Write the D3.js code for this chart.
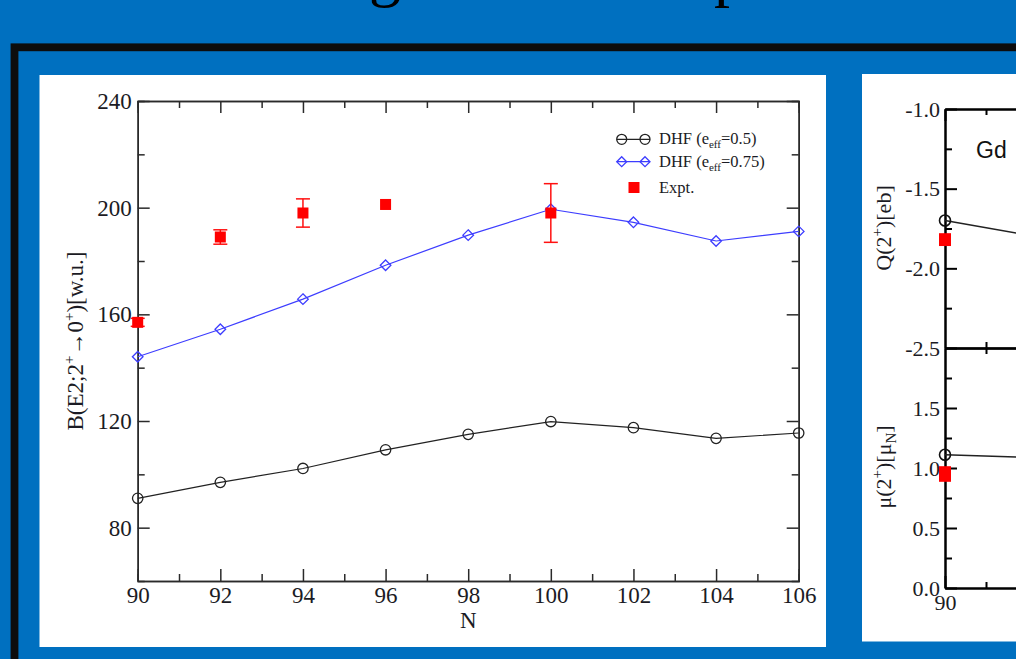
<!DOCTYPE html>
<html>
<head>
<meta charset="utf-8">
<script src="https://cdn.jsdelivr.net/npm/d3@7/dist/d3.min.js"></script>
<style>
  html, body { margin: 0; padding: 0; background: #0070c0; }
  svg { display: block; }
</style>
</head>
<body>
<svg id="slide" width="1016" height="659"></svg>
<script>
// ---- B(E2) panel data ----
const neutrons = [90, 92, 94, 96, 98, 100, 102, 104, 106];
const dhf05 = [91, 97, 102.2, 109.2, 115, 119.8, 117.5, 113.5, 115.5];
const dhf075 = [144.1, 154.4, 165.7, 178.4, 189.7, 199.4, 194.5, 187.5, 191.1];
const exptN = [90, 92, 94, 96, 100];
const exptB = [157, 189, 198, 201.2, 198];
const exptErr = [1.5, 2.7, 5.3, 0, 11];
const xTicks = [90, 92, 94, 96, 98, 100, 102, 104, 106];
const yTicks = [80, 120, 160, 200, 240];
const legendLabels = ["DHF (e", "eff", "=0.5)", "=0.75)", "Expt."];

// ---- Gd moments panel data ----
const gdN = [90, 92];
const gdQ = [-1.70, -1.79];
const gdQExpt = [-1.82];
const gdQErr = [0.04];
const gdMu = [1.11, 1.09];
const gdMuExpt = [0.95];
const gdMuErr = [0.065];
const gdXTicks = [90, 92, 94, 96];
const qTicks = [-1.0, -1.5, -2.0, -2.5];
const muTicks = [0.0, 0.5, 1.0, 1.5];

const svg = d3.select("#slide");
const serif = '"Liberation Serif", "Times New Roman", serif';
const ink = "#1b1b24";

// slide background, title descenders and frame
svg.append("rect").attr("width", 1016).attr("height", 659).attr("fill", "#0070c0");
svg.append("text").attr("x", 369).attr("y", -6).attr("font-family", serif)
  .attr("font-size", 64).attr("fill", "#000").text("g");
svg.append("text").attr("x", 714).attr("y", -6).attr("font-family", serif)
  .attr("font-size", 64).attr("fill", "#000").text("p");
svg.append("rect").attr("x", 14.5).attr("y", 47.3).attr("width", 1100).attr("height", 700)
  .attr("fill", "none").attr("stroke", "#0d0d0d").attr("stroke-width", 7.8);

svg.append("rect").attr("x", 39.5).attr("y", 75).attr("width", 786.5).attr("height", 572).attr("fill", "#fff");
svg.append("rect").attr("x", 862).attr("y", 74).attr("width", 160).attr("height", 567.5).attr("fill", "#fff");

// ================= main B(E2) chart =================
const x = d3.scaleLinear().domain([90, 106]).range([137.7, 798.7]);
const y = d3.scaleLinear().domain([60, 240]).range([581, 101]);
const g = svg.append("g");
const axisColor = "#2a2a2a";

function styleAxis(sel) {
  sel.selectAll("path, line").attr("stroke", axisColor).attr("stroke-width", 1.5);
  sel.selectAll("text").attr("font-family", serif).attr("font-size", 23).attr("fill", ink);
}
const minorX = d3.range(91, 106, 2);
const minorYVals = [100, 140, 180, 220];

g.append("g").attr("transform", `translate(0,${y(60)})`)
  .call(d3.axisBottom(x).tickValues(xTicks).tickSize(-12).tickSizeOuter(0).tickPadding(6)).call(styleAxis);
g.append("g").attr("transform", `translate(0,${y(60)})`)
  .call(d3.axisBottom(x).tickValues(minorX).tickSize(-7).tickFormat("")).call(styleAxis);
g.append("g").attr("transform", `translate(0,${y(240)})`)
  .call(d3.axisTop(x).tickValues(xTicks).tickSize(-12).tickSizeOuter(0).tickFormat("")).call(styleAxis);
g.append("g").attr("transform", `translate(0,${y(240)})`)
  .call(d3.axisTop(x).tickValues(minorX).tickSize(-7).tickFormat("")).call(styleAxis);
g.append("g").attr("transform", `translate(${x(90)},0)`)
  .call(d3.axisLeft(y).tickValues(yTicks).tickSize(-12).tickSizeOuter(0).tickPadding(6)).call(styleAxis);
g.append("g").attr("transform", `translate(${x(90)},0)`)
  .call(d3.axisLeft(y).tickValues(minorYVals).tickSize(-7).tickFormat("")).call(styleAxis);
g.append("g").attr("transform", `translate(${x(106)},0)`)
  .call(d3.axisRight(y).tickValues(yTicks).tickSize(-12).tickSizeOuter(0).tickFormat("")).call(styleAxis);
g.append("g").attr("transform", `translate(${x(106)},0)`)
  .call(d3.axisRight(y).tickValues(minorYVals).tickSize(-7).tickFormat("")).call(styleAxis);

// axis titles
g.append("text").attr("x", x(98)).attr("y", 628).attr("text-anchor", "middle")
  .attr("font-family", serif).attr("font-size", 23).attr("fill", ink).text("N");
const yt = g.append("text").attr("transform", `translate(83,${(y(60) + y(240)) / 2}) rotate(-90)`)
  .attr("text-anchor", "middle").attr("font-family", serif).attr("font-size", 23).attr("fill", ink);
yt.append("tspan").text("B(E2;2");
yt.append("tspan").attr("dy", -9).attr("font-size", 15).text("+");
yt.append("tspan").attr("dy", 9).text("\u21920");
yt.append("tspan").attr("dy", -9).attr("font-size", 15).text("+");
yt.append("tspan").attr("dy", 9).text(")[w.u.]");

// series
const line = (ys) => d3.line().x((d, i) => x(neutrons[i])).y((d, i) => y(ys[i]));
const diamond = (cx, cy, r) => `M${cx},${cy - r}L${cx + r},${cy}L${cx},${cy + r}L${cx - r},${cy}Z`;

g.append("path").datum(dhf05).attr("d", line(dhf05)).attr("fill", "none")
  .attr("stroke", "#222").attr("stroke-width", 1.2);
g.selectAll("circle.c05").data(dhf05).join("circle").attr("class", "c05")
  .attr("cx", (d, i) => x(neutrons[i])).attr("cy", d => y(d)).attr("r", 5.2)
  .attr("fill", "none").attr("stroke", "#222").attr("stroke-width", 1.3);

g.append("path").datum(dhf075).attr("d", line(dhf075)).attr("fill", "none")
  .attr("stroke", "#3d3dff").attr("stroke-width", 1.2);
g.selectAll("path.d075").data(dhf075).join("path").attr("class", "d075")
  .attr("d", (d, i) => diamond(x(neutrons[i]), y(d), 5.3))
  .attr("fill", "none").attr("stroke", "#3d3dff").attr("stroke-width", 1.3);

// experiment with error bars
const red = "#ff1010";
exptN.forEach((n, i) => {
  if (!exptErr[i]) return;
  const cx = x(n), top = y(exptB[i] + exptErr[i]), bot = y(exptB[i] - exptErr[i]);
  g.append("line").attr("x1", cx).attr("x2", cx).attr("y1", top).attr("y2", bot).attr("stroke", red).attr("stroke-width", 1.5);
  [top, bot].forEach(yy => g.append("line").attr("x1", cx - 7).attr("x2", cx + 7)
    .attr("y1", yy).attr("y2", yy).attr("stroke", red).attr("stroke-width", 1.5));
});
g.selectAll("rect.expt").data(exptB).join("rect").attr("class", "expt")
  .attr("x", (d, i) => x(exptN[i]) - 5.5).attr("y", d => y(d) - 5.5)
  .attr("width", 11).attr("height", 11).attr("fill", "#ff0000");

// legend
const leg = g.append("g");
const rows = [139.3, 161.7, 187.5];
leg.append("line").attr("x1", 617).attr("x2", 650).attr("y1", rows[0]).attr("y2", rows[0]).attr("stroke", "#222").attr("stroke-width", 1.2);
[621.7, 645].forEach(cx => leg.append("circle").attr("cx", cx).attr("cy", rows[0]).attr("r", 5)
  .attr("fill", "none").attr("stroke", "#222").attr("stroke-width", 1.3));
leg.append("line").attr("x1", 617).attr("x2", 650).attr("y1", rows[1]).attr("y2", rows[1]).attr("stroke", "#3d3dff").attr("stroke-width", 1.2);
[621.7, 645].forEach(cx => leg.append("path").attr("d", diamond(cx, rows[1], 5))
  .attr("fill", "none").attr("stroke", "#3d3dff").attr("stroke-width", 1.3));
leg.append("rect").attr("x", 628.5).attr("y", rows[2] - 5.5).attr("width", 11).attr("height", 11).attr("fill", "#ff0000");

[legendLabels[2], legendLabels[3]].forEach((tail, k) => {
  const t = leg.append("text").attr("x", 659).attr("y", rows[k] + 5).attr("font-family", serif)
    .attr("font-size", 16.5).attr("fill", ink);
  t.append("tspan").text(legendLabels[0]);
  t.append("tspan").attr("dy", 4).attr("font-size", 11).text(legendLabels[1]);
  t.append("tspan").attr("dy", -4).text(tail);
});
leg.append("text").attr("x", 659).attr("y", rows[2] + 5).attr("font-family", serif)
  .attr("font-size", 16.5).attr("fill", ink).text(legendLabels[4]);

// ================= Gd moments chart (right panel) =================
const xr = d3.scaleLinear().domain([90, 96]).range([945, 945 + 6 * 41]);
const yq = d3.scaleLinear().domain([-1.0, -2.5]).range([109, 348]);
const ym = d3.scaleLinear().domain([0, 2]).range([588, 348]);
const r = svg.append("g");
const rxMinor = [91, 93, 95];

function styleR(sel) {
  sel.selectAll("path, line").attr("stroke", "#000").attr("stroke-width", 2);
  sel.selectAll("text").attr("font-family", serif).attr("font-size", 22).attr("fill", ink);
}
// upper panel
r.append("g").attr("transform", `translate(0,${yq(-1.0)})`)
  .call(d3.axisTop(xr).tickValues(gdXTicks).tickSize(-12).tickSizeOuter(0).tickFormat("")).call(styleR);
r.append("g").attr("transform", `translate(0,${yq(-1.0)})`)
  .call(d3.axisTop(xr).tickValues(rxMinor).tickSize(-6).tickSizeOuter(0).tickFormat("")).call(styleR);
r.append("g").attr("transform", `translate(0,${yq(-2.5)})`)
  .call(d3.axisBottom(xr).tickValues(gdXTicks.slice(1)).tickSize(-12).tickSizeOuter(0).tickFormat("")).call(styleR);
r.append("g").attr("transform", `translate(0,${yq(-2.5)})`)
  .call(d3.axisBottom(xr).tickValues(rxMinor).tickSize(-6).tickSizeOuter(0).tickFormat("")).call(styleR);
r.append("g").attr("transform", `translate(${xr(90)},0)`)
  .call(d3.axisLeft(yq).tickValues(qTicks).tickSize(-12).tickSizeOuter(0).tickPadding(5)
    .tickFormat(d => d.toFixed(1))).call(styleR);
r.append("g").attr("transform", `translate(${xr(90)},0)`)
  .call(d3.axisLeft(yq).tickValues([-1.25, -1.75, -2.25]).tickSize(-7).tickSizeOuter(0).tickFormat("")).call(styleR);
// lower panel
r.append("g").attr("transform", `translate(0,${ym(2)})`)
  .call(d3.axisTop(xr).tickValues(rxMinor).tickSize(-6).tickSizeOuter(0).tickFormat("")).call(styleR);
r.append("g").attr("transform", `translate(0,${ym(0)})`)
  .call(d3.axisBottom(xr).tickValues(gdXTicks).tickSize(-12).tickSizeOuter(0).tickPadding(6)
    .tickFormat(d3.format("d"))).call(styleR);
r.append("g").attr("transform", `translate(0,${ym(0)})`)
  .call(d3.axisBottom(xr).tickValues(rxMinor).tickSize(-6).tickSizeOuter(0).tickFormat("")).call(styleR);
r.append("g").attr("transform", `translate(${xr(90)},0)`)
  .call(d3.axisLeft(ym).tickValues(muTicks).tickSize(-12).tickSizeOuter(0).tickPadding(5)
    .tickFormat(d => d.toFixed(1))).call(styleR);
r.append("g").attr("transform", `translate(${xr(90)},0)`)
  .call(d3.axisLeft(ym).tickValues([0.25, 0.75, 1.25, 1.75]).tickSize(-7).tickSizeOuter(0).tickFormat("")).call(styleR);

r.append("text").attr("x", 976).attr("y", 158).attr("font-family", '"Liberation Sans", Arial, sans-serif')
  .attr("font-size", 23).attr("fill", "#111").text("Gd");

const qt = r.append("text").attr("transform", `translate(891,228) rotate(-90)`)
  .attr("text-anchor", "middle").attr("font-family", serif).attr("font-size", 22).attr("fill", ink);
qt.append("tspan").text("Q(2");
qt.append("tspan").attr("dy", -9).attr("font-size", 15).text("+");
qt.append("tspan").attr("dy", 9).text(")[eb]");
const mt = r.append("text").attr("transform", `translate(891,467) rotate(-90)`)
  .attr("text-anchor", "middle").attr("font-family", serif).attr("font-size", 22).attr("fill", ink);
mt.append("tspan").text("\u03bc(2");
mt.append("tspan").attr("dy", -9).attr("font-size", 15).text("+");
mt.append("tspan").attr("dy", 9).text(")[\u03bc");
mt.append("tspan").attr("dy", 5).attr("font-size", 15).text("N");
mt.append("tspan").attr("dy", -5).text("]");

const lq = d3.line().x((d, i) => xr(gdN[i])).y(d => yq(d));
const lm = d3.line().x((d, i) => xr(gdN[i])).y(d => ym(d));
r.append("path").attr("d", lq(gdQ)).attr("fill", "none").attr("stroke", "#222").attr("stroke-width", 1.5);
r.append("path").attr("d", lm(gdMu)).attr("fill", "none").attr("stroke", "#222").attr("stroke-width", 1.5);
r.append("circle").attr("cx", xr(gdN[0])).attr("cy", yq(gdQ[0])).attr("r", 5.5)
  .attr("fill", "none").attr("stroke", "#111").attr("stroke-width", 1.6);
r.append("circle").attr("cx", xr(gdN[0])).attr("cy", ym(gdMu[0])).attr("r", 5.5)
  .attr("fill", "none").attr("stroke", "#111").attr("stroke-width", 1.6);

[[yq, gdQExpt[0], gdQErr[0]], [ym, gdMuExpt[0], gdMuErr[0]]].forEach(([sc, v, e]) => {
  const cx = xr(90);
  r.append("rect").attr("x", cx - 6).attr("y", sc(v) - 6).attr("width", 12).attr("height", 12).attr("fill", "#ff0000");
  const y1 = Math.min(sc(v + e), sc(v - e)), y2 = Math.max(sc(v + e), sc(v - e));
  r.append("rect").attr("x", cx - 6).attr("y", y1).attr("width", 12).attr("height", y2 - y1).attr("fill", "#ff0000");
});
</script>
</body>
</html>
